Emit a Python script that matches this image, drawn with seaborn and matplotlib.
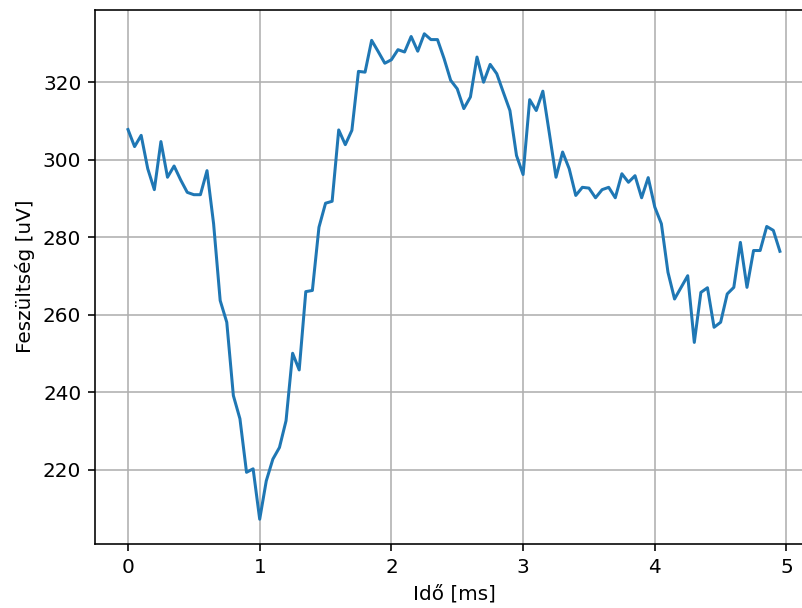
import numpy as np
import pandas as pd
import matplotlib
matplotlib.use("Agg")
import matplotlib.pyplot as plt
import seaborn as sns

# Data (sample step 0.05 ms)
time_ms = [round(0.05 * i, 2) for i in range(100)]
voltage_uv = [
    307.8, 303.4, 306.3, 297.7, 292.3, 304.7, 295.5, 298.4, 294.8, 291.6,
    291.0, 291.0, 297.2, 283.5, 263.7, 258.1, 239.2, 233.2, 219.4, 220.3,
    207.3, 217.2, 222.8, 225.8, 232.7, 250.1, 245.8, 266.0, 266.3, 282.6,
    288.8, 289.3, 307.7, 303.9, 307.6, 322.8, 322.6, 330.8, 327.9, 324.9,
    325.8, 328.4, 327.8, 331.8, 328.0, 332.5, 331.0, 331.0, 326.1, 320.5,
    318.3, 313.2, 316.2, 326.5, 320.0, 324.6, 322.2, 317.4, 312.7, 301.1,
    296.2, 315.5, 312.7, 317.7, 306.7, 295.5, 302.0, 297.7, 290.8, 292.9,
    292.7, 290.2, 292.3, 292.9, 290.2, 296.4, 294.2, 295.9, 290.2, 295.4,
    287.8, 283.5, 271.0, 264.1, 267.1, 270.1, 252.9, 265.8, 267.0, 256.8,
    258.1, 265.4, 267.1, 278.7, 267.1, 276.6, 276.6, 282.8, 281.8, 276.4,
]
x_label = "Idő [ms]"
y_label = "Feszültség [uV]"
x_ticks = [0, 1, 2, 3, 4, 5]
y_ticks = [220, 240, 260, 280, 300, 320]

S = 1.445  # scale factor relative to matplotlib defaults
plt.rcParams.update({
    "font.family": ["DejaVu Sans"],
    "font.size": 10 * S,
    "axes.linewidth": 0.8 * S,
    "grid.linewidth": 0.8 * S,
    "grid.color": "#b0b0b0",
    "xtick.major.size": 3.5 * S,
    "ytick.major.size": 3.5 * S,
    "xtick.major.width": 0.8 * S,
    "ytick.major.width": 0.8 * S,
    "xtick.major.pad": 3.5 * S,
    "ytick.major.pad": 3.5 * S,
    "axes.labelpad": 4.0 * S,
})

df = pd.DataFrame({"t": time_ms, "v": voltage_uv})

fig = plt.figure(figsize=(8.03, 6.08), dpi=100)
# axes extends past the right edge of the canvas (reference is cropped there)
ax = fig.add_axes([95.4 / 803, (608 - 543.5) / 608, 717.1 / 803, 534 / 608])
sns.lineplot(data=df, x="t", y="v", ax=ax, color="#1f77b4", linewidth=1.5 * S)
ax.set_xticks(x_ticks)
ax.set_yticks(y_ticks)
ax.set_xlabel(x_label)
ax.set_ylabel(y_label)
ax.grid(True)
ax.set_axisbelow(True)
ax.spines["right"].set_visible(False)

fig.savefig("out.png", dpi=100)
